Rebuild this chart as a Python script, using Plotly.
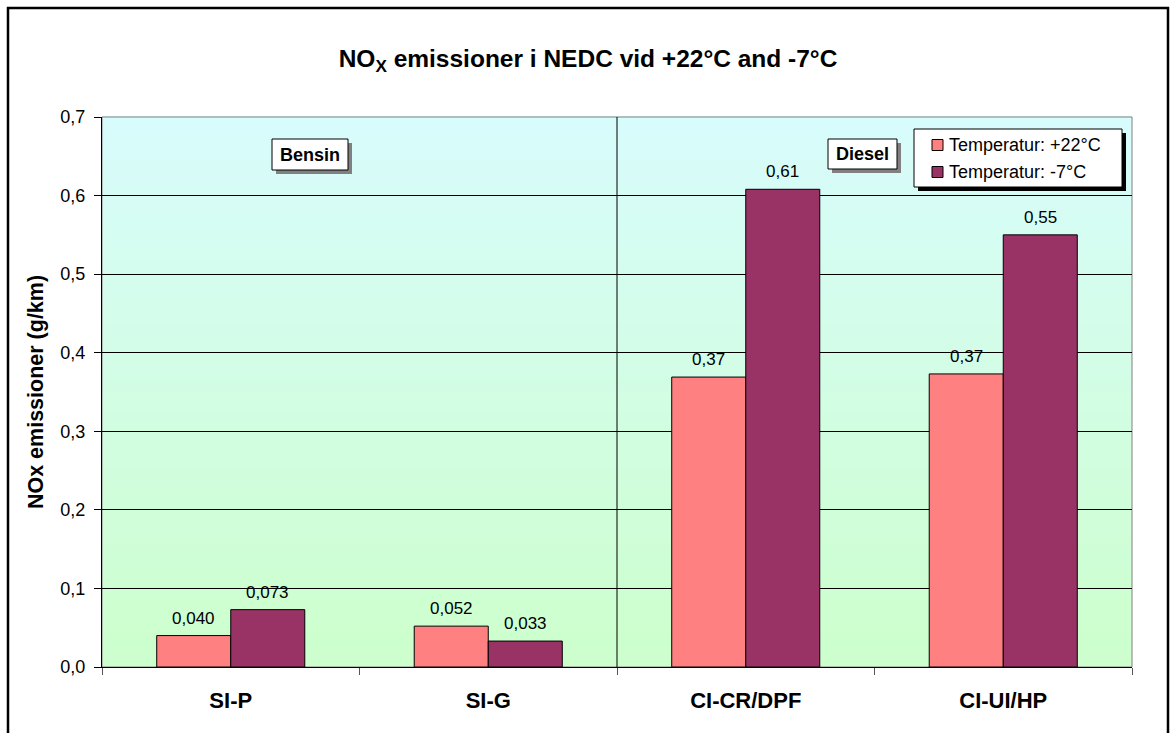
import plotly.graph_objects as go

# Vehicle categories and NOx emissions (g/km) at the two test temperatures
categories = ["SI-P", "SI-G", "CI-CR/DPF", "CI-UI/HP"]
nox_warm = [0.040, 0.052, 0.369, 0.373]   # +22 °C
nox_cold = [0.073, 0.033, 0.608, 0.550]   # -7 °C
series_names = ["Temperatur: +22°C", "Temperatur: -7°C"]
group_labels = ["Bensin", "Diesel"]
y_ticks = [0.0, 0.1, 0.2, 0.3, 0.4, 0.5, 0.6, 0.7]

FONT = "Liberation Sans, Arial, sans-serif"
PINK = "#FF8080"
PLUM = "#993366"
COLORS = [PINK, PLUM]
BARGAP = 0.425

# plot-area geometry in pixels
W, H = 1176, 733
L, R, T, B = 102, 44, 117, 66
PW, PH = W - L - R, H - T - B


def px_x(x):
    return (x - L) / PW


def px_y(y):
    return (H - B - y) / PH


def label(v):
    s = f"{v:.3f}" if v < 0.1 else f"{v:.2f}"
    return s.replace(".", ",")


def box(x0, x1, y0, y1, **kw):
    return dict(type="rect", xref="paper", yref="paper",
                x0=px_x(x0), x1=px_x(x1), y0=px_y(y1), y1=px_y(y0), **kw)


fig = go.Figure()
annotations = []
bar_w = (1 - BARGAP) / 2
for s, (vals, name, color) in enumerate(zip([nox_warm, nox_cold], series_names, COLORS)):
    fig.add_trace(go.Bar(
        x=categories, y=vals, name=name, showlegend=False,
        marker=dict(color=color, line=dict(color="black", width=1)),
    ))
    # value labels just above each bar
    offset = (s - 0.5) * bar_w
    for i, v in enumerate(vals):
        annotations.append(dict(xref="x", yref="y", x=i + offset, y=v,
                                text=label(v), showarrow=False,
                                font=dict(family=FONT, size=17, color="black"),
                                xanchor="center", yanchor="bottom", yshift=6))

shapes = []
# vertical gradient background, light cyan at top to light green at bottom
top_c = (216, 252, 252)
bot_c = (204, 255, 204)
n = 80
for i in range(n):
    t = i / (n - 1)
    c = tuple(round(bot_c[k] + (top_c[k] - bot_c[k]) * t) for k in range(3))
    shapes.append(dict(type="rect", xref="paper", yref="paper",
                       x0=0, x1=1, y0=i / n, y1=(i + 1) / n + 0.002,
                       fillcolor=f"rgb{c}", line=dict(width=0), layer="below"))
# grey plot-area frame
shapes.append(dict(type="rect", xref="paper", yref="paper", x0=0, x1=1, y0=0, y1=1,
                   line=dict(color="#808080", width=1), layer="below"))
# divider between petrol and diesel vehicles
shapes.append(dict(type="line", xref="x", yref="paper", x0=1.5, x1=1.5, y0=0, y1=1,
                   line=dict(color="black", width=1)))
# outer chart frame
shapes.append(box(8, 1168, 8, 745, line=dict(color="black", width=2.5)))

# fuel-group tags with drop shadow
for (bx0, bx1, by0, by1), gtxt in zip([(272, 348, 139, 170), (828, 897, 139, 169)],
                                      group_labels):
    shapes.append(box(bx0 + 4, bx1 + 4, by0 + 4, by1 + 4,
                      fillcolor="#808080", line=dict(width=0)))
    shapes.append(box(bx0, bx1, by0, by1, fillcolor="white",
                      line=dict(color="black", width=1)))
    annotations.append(dict(xref="paper", yref="paper",
                            x=px_x((bx0 + bx1) / 2), y=px_y((by0 + by1) / 2),
                            text=f"<b>{gtxt}</b>", showarrow=False,
                            font=dict(family=FONT, size=18, color="black"),
                            xanchor="center", yanchor="middle"))

# legend box with drop shadow
lx0, lx1, ly0, ly1 = 914, 1122, 129, 187
shapes.append(box(lx0 + 4, lx1 + 4, ly0 + 4, ly1 + 4, fillcolor="black", line=dict(width=0)))
shapes.append(box(lx0, lx1, ly0, ly1, fillcolor="white", line=dict(color="black", width=1)))
for k, (name, color) in enumerate(zip(series_names, COLORS)):
    cy = 145 + 27 * k
    shapes.append(box(932, 943, cy - 5.5, cy + 5.5, fillcolor=color,
                      line=dict(color="black", width=1)))
    annotations.append(dict(xref="paper", yref="paper", x=px_x(947), y=px_y(cy),
                            text=name, showarrow=False,
                            font=dict(family=FONT, size=18, color="black"),
                            xanchor="left", yanchor="middle"))

fig.update_layout(
    width=W, height=H,
    margin=dict(l=L, r=R, t=T, b=B, pad=0),
    paper_bgcolor="white", plot_bgcolor="white",
    font=dict(family=FONT, size=17, color="black"),
    separators=", ",
    barmode="group", bargap=BARGAP, bargroupgap=0,
    showlegend=False,
    title=dict(text="<b>NO<sub>X</sub> emissioner i NEDC vid +22°C and -7°C</b>",
               x=0.5, xref="container", xanchor="center",
               y=1 - 58 / H, yref="container", yanchor="middle",
               font=dict(family=FONT, size=24.5, color="black")),
    shapes=shapes, annotations=annotations,
    xaxis=dict(showgrid=False, showline=True, linecolor="black", linewidth=1,
               ticks="outside", tickson="boundaries", ticklen=7, tickcolor="#555555",
               tickfont=dict(family=FONT, size=22, color="black"),
               tickprefix="<b>", ticksuffix="</b>", ticklabelstandoff=14),
    yaxis=dict(range=[0, 0.7], tickvals=y_ticks, tickformat=".1f",
               showgrid=True, gridcolor="black", gridwidth=1,
               showline=True, linecolor="black", linewidth=1, zeroline=False,
               ticks="outside", ticklen=7, tickcolor="black", ticklabelstandoff=5,
               tickfont=dict(family=FONT, size=18, color="black"),
               title=dict(text="<b>NOx emissioner (g/km)</b>", standoff=10,
                          font=dict(family=FONT, size=21.5, color="black"))),
)

fig.write_html("out.html")
